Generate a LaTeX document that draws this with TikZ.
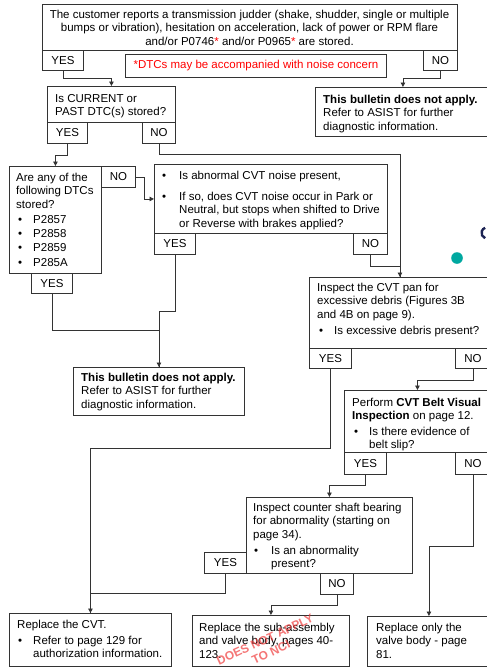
\documentclass[tikz,border=0pt]{standalone}
\usepackage{fontspec}
\setmainfont{Liberation Sans}
\usetikzlibrary{arrows.meta,calc}
\definecolor{ln}{HTML}{333333}
\definecolor{stampred}{HTML}{F03C3C}
\definecolor{tealdot}{HTML}{00A8A0}
\definecolor{navyc}{HTML}{1C2353}
\newcommand\fs{\fontsize{11.5}{13.3}\selectfont}
\newcommand\bul{\vphantom{Il}\textbullet}
\newcommand\mybox[6]{\node[box, minimum width={#4-#2}, minimum height={#5-#3}] (#1) at (#2,#3) {#6};}
\begin{document}
\begin{tikzpicture}[x=1pt,y=-1pt,
  box/.style={draw=ln, line width=0.9pt, inner sep=0pt, anchor=north west, font=\fs},
  txt/.style={inner sep=0pt, anchor=north west, align=left, font=\fs},
  conn/.style={draw=ln, line width=0.9pt},
  arr/.style={conn, -{Triangle[length=4.5pt,width=4.5pt]}},
]
\useasboundingbox (0,0) rectangle (487,667);
\fill[white] (0,0) rectangle (487,667);
\clip (0,0) rectangle (487,667);

% ---- boxes ----
\mybox{T}{42}{4}{457}{50}{}
\mybox{Tyes}{42}{50}{83}{70}{YES}
\mybox{Tno}{423}{50}{457}{70}{NO}
\node[box, text=red, minimum width=261, minimum height=23] (note) at (125,54) {*DTCs may be accompanied with noise concern};

\mybox{Q1}{47}{86}{175}{122}{}
\mybox{Y1}{47}{122}{87}{143}{YES}
\mybox{N1}{142}{122}{175}{143}{NO}

\mybox{R1}{315}{87}{490}{136}{}

\mybox{Q2}{9}{166}{101}{273}{}
\mybox{N2}{101}{166}{135}{187}{NO}
\mybox{Y2}{31}{273}{72}{293}{YES}

\mybox{Q3}{154}{164}{387}{233}{}
\mybox{Y3}{154}{233}{195}{254}{YES}
\mybox{N3}{353}{233}{387}{254}{NO}

\mybox{R2}{73}{367}{244}{415}{}

\mybox{Q4}{309}{277}{490}{348}{}
\mybox{Y4}{309}{348}{351}{368}{YES}
\mybox{N4}{455}{348}{490}{368}{NO}

\mybox{Q5}{344}{390}{490}{452}{}
\mybox{Y5}{344}{452}{386}{474}{YES}
\mybox{N5}{455}{452}{490}{474}{NO}

\mybox{Q6}{246}{497}{412}{573}{}
\mybox{Y6}{204}{552}{246}{573}{YES}
\mybox{N6}{320}{573}{353}{594}{NO}

\mybox{E1}{9}{613}{171}{666}{}
\mybox{E2}{192}{615}{349}{666}{}
\mybox{E3}{367}{616}{490}{666}{}

% ---- texts ----
\node[txt, anchor=north, align=center] (tT) at (249.5,10) {The customer reports a transmission judder (shake, shudder, single or multiple\\bumps or vibration), hesitation on acceleration, lack of power or RPM flare\\and/or P0746{\color{red}*} and/or P0965{\color{red}*} are stored.};

\node[txt] (tQ1) at (55,94) {Is CURRENT or\\PAST DTC(s) stored?};

\node[txt] (tR1) at (323,95) {\textbf{This bulletin does not apply.}\\Refer to ASIST for further\\diagnostic information.};

\node[txt] (tQ2) at (16,173) {Are any of the\\following DTCs\\stored?};
\node[txt, font=\fontsize{11.5}{14.2}\selectfont] (bQ2) at (18,215) {\bul\\\bul\\\bul\\\bul};
\node[txt, font=\fontsize{11.5}{14.2}\selectfont] (tQ2b) at (33,215) {\vphantom{Il}P2857\\P2858\\P2859\\P285A};

\node[txt] (bQ3a) at (162,171) {\bul};
\node[txt] (tQ3a) at (179,171) {Is abnormal CVT noise present,};
\node[txt] (bQ3b) at (162,192) {\bul};
\node[txt] (tQ3b) at (179,192) {If so, does CVT noise occur in Park or\\Neutral, but stops when shifted to Drive\\or Reverse with brakes applied?};

\node[txt] (tR2) at (81,373) {\textbf{This bulletin does not apply.}\\Refer to ASIST for further\\diagnostic information.};

\node[txt] (tQ4) at (317,283) {Inspect the CVT pan for\\excessive debris (Figures 3B\\and 4B on page 9).};
\node[txt] (bQ4) at (319,326) {\bul};
\node[txt] (tQ4b) at (334,326) {Is excessive debris present?};

\node[txt] (tQ5) at (352,398) {Perform \textbf{CVT Belt Visual}\\\textbf{Inspection} on page 12.};
\node[txt] (bQ5) at (354,427) {\bul};
\node[txt] (tQ5b) at (369,427) {Is there evidence of\\belt slip?};

\node[txt] (tQ6) at (253,503) {Inspect counter shaft bearing\\for abnormality (starting on\\page 34).};
\node[txt] (bQ6) at (254,546) {\bul};
\node[txt] (tQ6b) at (271,546) {Is an abnormality\\present?};

\node[txt] (tE1) at (17,620) {Replace the CVT.};
\node[txt] (bE1) at (18,636) {\bul};
\node[txt] (tE1b) at (33,636) {Refer to page 129 for\\authorization information.};

\node[txt] (tE2) at (199,623) {Replace the sub-assembly\\and valve body, pages 40-\\123.};
\node[txt] (tE3) at (376,623) {Replace only the\\valve body - page\\81.};

% ---- stamp ----
\node[text=stampred, opacity=0.7, rotate=25, align=center, inner sep=0pt,
      font=\bfseries\fontsize{12}{14}\selectfont] (stamp) at (268,646) {DOES NOT APPLY\\TO NCI};

% ---- decorations at right edge ----
\fill[tealdot] (457,258) circle (5.8);
\draw[navyc, line width=2.4pt] (487,233) ++(110:5.5) arc (110:250:5.5);

% ---- connectors ----
\draw[arr] (Tyes.south) -- ++(0,8) -| (Q1.north);
\draw[arr] (Tno.south) -- ++(0,8) -| (R1.north);
\draw[arr] (Y1.south) -- ++(0,12) -| (Q2.north);
\draw[arr] (N1.south) -- ++(0,11) -| (Q4.north);
\draw[arr] (N2.east) -- ++(9,0) |- (Q3.west);
\draw[conn] (N3.south) -- ++(0,12) -| (Q4.north);
\draw[conn] (Y2.south) -- ++(0,37) -| (R2.north);
\draw[arr] (Y3.south) -- ++(0,57) -| (R2.north);
\draw[arr] (Y4.south) -- ++(0,80) -| (E1.north);
\draw[arr] (N4.south) -- ++(0,12) -| (Q5.north);
\draw[arr] (Y5.south) -- ++(0,11) -| (Q6.north);
\draw[arr] (N5.south) -- ++(0,72) -| (E3.north);
\draw[conn] (Y6.south) -- ++(0,20) -| (E1.north);
\draw[arr] (N6.south) -- ++(0,11) -| (E2.north);
\end{tikzpicture}
\end{document}
